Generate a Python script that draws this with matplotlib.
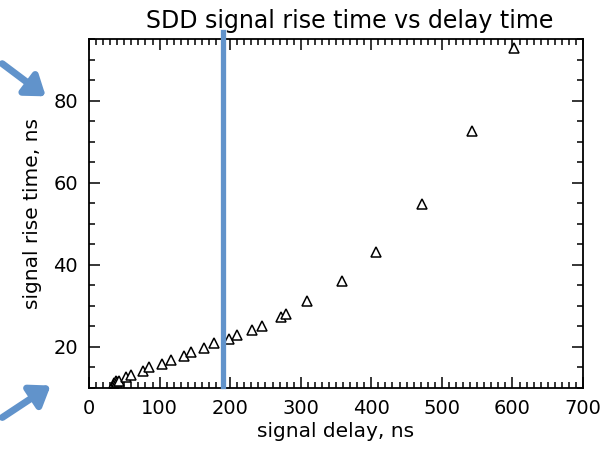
import matplotlib
matplotlib.use("Agg")
import matplotlib.pyplot as plt
from matplotlib.patches import FancyArrowPatch
from matplotlib.ticker import MultipleLocator

delay = [36, 38, 40, 42, 52, 60, 77, 85, 103, 116, 135, 145, 163, 177,
         199, 209, 231, 245, 272, 279, 309, 358, 406, 472, 542, 602]
rise = [11.2, 11.8, 11.5, 11.8, 12.6, 13.2, 14.2, 15.1, 15.9, 16.9, 17.7,
        18.7, 19.7, 21.0, 21.8, 22.8, 24.2, 25.2, 27.3, 27.9, 31.1, 36.1,
        43.2, 54.8, 72.6, 92.9]

MARK_DELAY = 190
BLUE = "#6193cb"

plt.rcParams["font.family"] = "DejaVu Sans"

fig = plt.figure(figsize=(6.16, 4.5), dpi=100)
ax = fig.add_axes([0.1445, 0.138, 0.802, 0.775])

ax.plot(delay, rise, linestyle="none", marker="^", markersize=7,
        markerfacecolor="white", markeredgecolor="black", markeredgewidth=1.1)

ax.axvline(MARK_DELAY, ymin=0.006, ymax=1.02, color=BLUE, lw=3.8,
           clip_on=False, zorder=5)

ax.set_xlim(0, 700)
ax.set_ylim(10, 95)
ax.xaxis.set_major_locator(MultipleLocator(100))
ax.xaxis.set_minor_locator(MultipleLocator(10))
ax.yaxis.set_major_locator(MultipleLocator(20))
ax.yaxis.set_minor_locator(MultipleLocator(5))
ax.tick_params(which="both", direction="in", top=True, right=True,
               labelsize=14, width=1.1)
ax.tick_params(which="major", length=8, pad=8)
ax.tick_params(which="minor", length=4)
for s in ax.spines.values():
    s.set_linewidth(1.3)

ax.set_xlabel("signal delay, ns", fontsize=14.5, labelpad=3)
ax.set_ylabel("signal rise time, ns", fontsize=14.5, labelpad=8)
ax.set_title("SDD signal rise time vs delay time", fontsize=17, x=0.528, pad=8)

# the two blue arrows pointing at the y axis ends (figure pixel coords)
for start, end in [((0, 62), (48, 98)), ((0, 419), (53, 384))]:
    fig.add_artist(FancyArrowPatch(
        (start[0] / 616, 1 - start[1] / 450), (end[0] / 616, 1 - end[1] / 450),
        transform=fig.transFigure, arrowstyle="-|>,head_length=7,head_width=5",
        color=BLUE, lw=5, mutation_scale=1.6))

fig.savefig("out.png", dpi=100)
